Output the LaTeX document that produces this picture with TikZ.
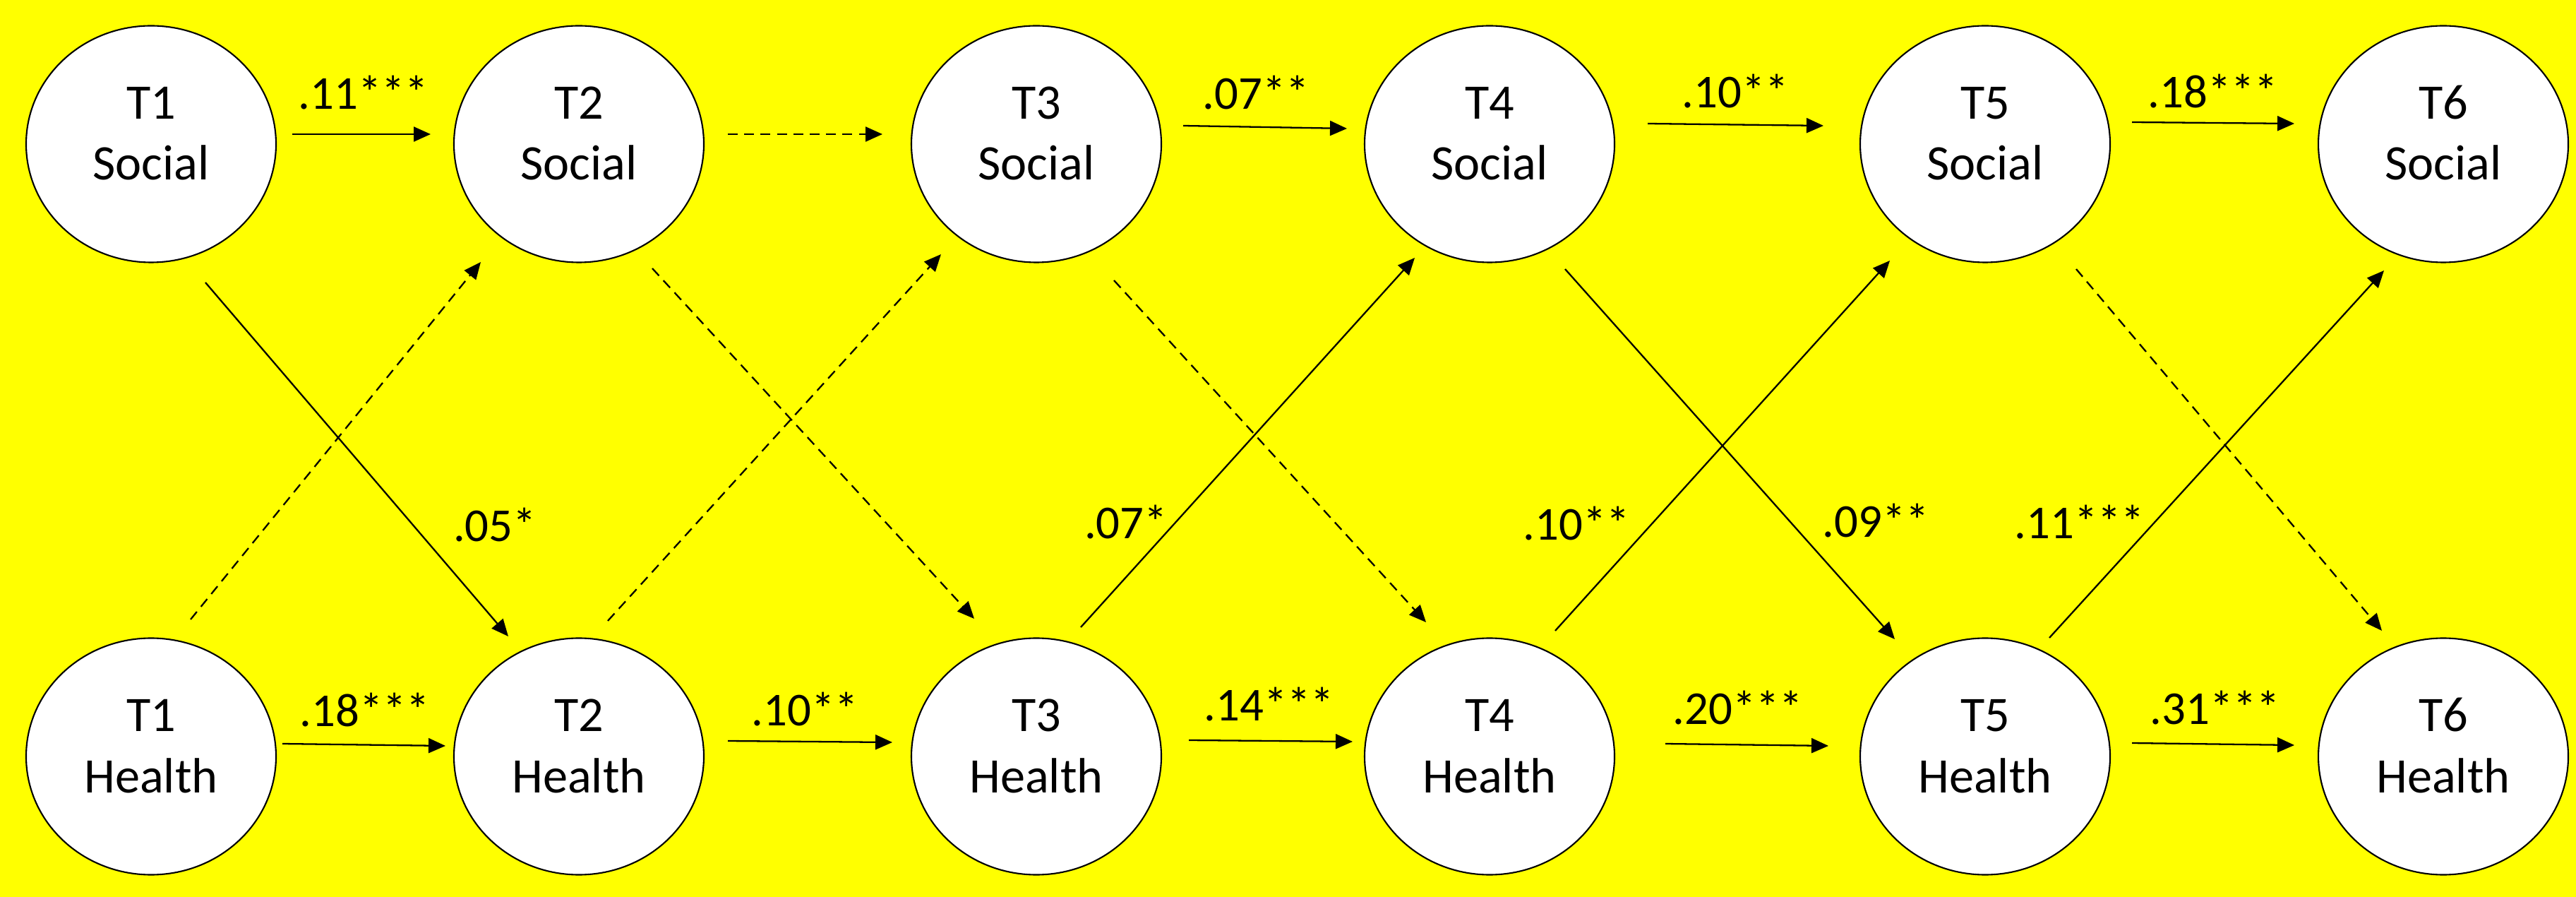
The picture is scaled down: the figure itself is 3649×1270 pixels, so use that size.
\documentclass[tikz,border=0pt]{standalone}
\usepackage{fontspec}
\setmainfont{Carlito}
\usetikzlibrary{arrows.meta,shapes.geometric}
\definecolor{panel}{HTML}{FFFF00}
\definecolor{ink}{HTML}{000000}
\begin{document}
\begin{tikzpicture}[x=0.1mm,y=-0.1mm,
  wave/.style={ellipse,draw=ink,line width=0.6pt,fill=white,minimum width=3.54cm,minimum height=3.35cm,
    inner sep=0pt,align=center,text height=1.5cm,text depth=0.48cm,font=\fontsize{20pt}{24.7pt}\selectfont},
  effect/.style={ink,line width=0.65pt,-{Triangle[length=2.4mm,width=2.1mm]}},
  nonsig/.style={dash pattern=on 4pt off 2.6pt},
  coef/.style={anchor=base,inner sep=0pt,text=ink,font=\fontsize{19pt}{22pt}\selectfont}]
\fill[panel] (0,0) rectangle (3649,1270);
\foreach \i/\x in {1/214,2/820,3/1468,4/2110,5/2812,6/3461}{
  \node[wave] (s\i) at (\x,204) {T\i\\Social};
  \node[wave] (h\i) at (\x,1071) {T\i\\Health};}
\foreach \a/\b/\u/\v in {s1/s2/{200,-14}/{-210,-14},s3/s4/{208,-26}/{-202,-22},s4/s5/{224,-29}/{-229,-26},
  s5/s6/{208,-31}/{-211,-29},h1/h2/{186,-18}/{-189,-15},h2/h3/{211,-22}/{-204,-20},h3/h4/{216,-23}/{-194,-21},
  h4/h5/{249,-18}/{-222,-15},h5/h6/{208,-19}/{-211,-16},s1/h2/{77,196}/{-100,-170},h3/s4/{63,-183}/{-106,161},
  s4/h5/{107,177}/{-128,-166},h4/s5/{93,-178}/{-135,165},h5/s6/{91,-168}/{-84,179}}
  \draw[effect] ([shift={(\u)}]\a.center) -- ([shift={(\v)}]\b.center);
\foreach \a/\b/\u/\v in {s2/s3/{211,-14}/{-218,-14},h1/s2/{56,-194}/{-139,167},s2/h3/{104,176}/{-88,-195},
  h2/s3/{41,-192}/{-135,156},s3/h4/{110,193}/{-90,-190},s5/h6/{129,177}/{-87,-178}}
  \draw[effect,nonsig] ([shift={(\u)}]\a.center) -- ([shift={(\v)}]\b.center);
\foreach \x/\y/\c [count=\k] in {515/155/.11***,1779/155/.07**,2458/153/.10**,3135/153/.18***,
  517/1028/.18***,1140/1027/.10**,1798/1020/.14***,2462/1025/.20***,3138/1025/.31***,
  701/767/.05*,1595/763/.07*,2233/765/.10**,2657/761/.09**,2946/763/.11***}
  \node[coef] (c\k) at (\x,\y) {\c};
\end{tikzpicture}
\end{document}
